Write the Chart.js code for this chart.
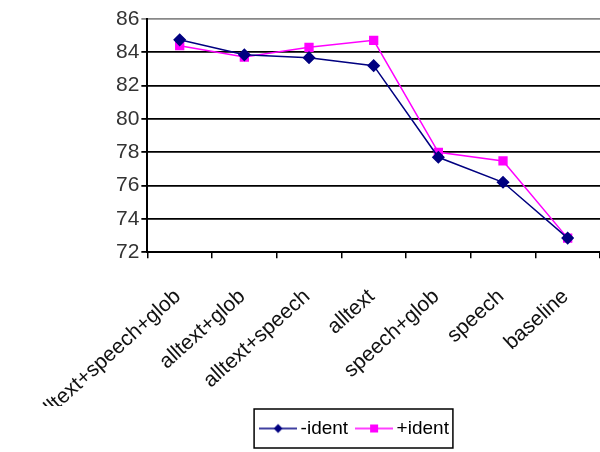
<!DOCTYPE html>
<html>
<head>
<meta charset="utf-8">
<script src="https://cdn.jsdelivr.net/npm/chart.js@4/dist/chart.umd.min.js"></script>
<style>
  html, body { margin: 0; padding: 0; background: #fff; }
  #wrap { width: 600px; height: 452px; }
</style>
</head>
<body>
<div id="wrap"><canvas id="chart"></canvas></div>
<script>
// datos del grafico
const categories = ["alltext+speech+glob", "alltext+glob", "alltext+speech", "alltext", "speech+glob", "speech", "baseline"];
const minusIdent = [84.75, 83.85, 83.68, 83.2, 77.7, 76.2, 72.85];
const plusIdent = [84.4, 83.72, 84.3, 84.72, 78.0, 77.48, 72.85];
const yTicks = [72, 74, 76, 78, 80, 82, 84, 86];

const NAVY = "#000080";
const MAGENTA = "#ff00ff";
const FONT = "'Liberation Sans', Arial, sans-serif";

// icono de leyenda: linea con marcador en medio
function legendIcon(color, shape) {
    const c = document.createElement("canvas");
    c.width = 38;
    c.height = 12;
    const g = c.getContext("2d");
    g.strokeStyle = color;
    g.lineWidth = 1.5;
    g.beginPath();
    g.moveTo(0, 6);
    g.lineTo(38, 6);
    g.stroke();
    g.fillStyle = color;
    if (shape === "diamond") {
        g.beginPath();
        g.moveTo(19, 1.5);
        g.lineTo(23.5, 6);
        g.lineTo(19, 10.5);
        g.lineTo(14.5, 6);
        g.closePath();
        g.fill();
    } else {
        g.fillRect(15, 2, 8, 8);
    }
    return c;
}
const icons = [legendIcon(NAVY, "diamond"), legendIcon(MAGENTA, "square")];

// marco alrededor de la leyenda
const legendBorder = {
    id: "legendBorder",
    afterDraw(chart) {
        const boxes = chart.legend && chart.legend.legendHitBoxes;
        if (!boxes || !boxes.length) return;
        const left = Math.min(...boxes.map(b => b.left)) - 11;
        const right = Math.max(...boxes.map(b => b.left + b.width)) + 4;
        const top = Math.min(...boxes.map(b => b.top)) - 10;
        const bottom = Math.max(...boxes.map(b => b.top + b.height)) + 10;
        const ctx = chart.ctx;
        ctx.save();
        ctx.strokeStyle = "#000";
        ctx.lineWidth = 1.5;
        ctx.strokeRect(left, top, right - left, bottom - top);
        ctx.restore();
    }
};

const ctx = document.getElementById("chart").getContext("2d");
const chart = new Chart(ctx, {
    type: "line",
    data: {
        labels: categories,
        datasets: [{
            label: "-ident",
            data: minusIdent,
            borderColor: NAVY,
            backgroundColor: NAVY,
            borderWidth: 1.5,
            pointStyle: "rectRot",
            pointRadius: 5.5,
            pointHoverRadius: 5.5,
            tension: 0
        }, {
            label: "+ident",
            data: plusIdent,
            borderColor: MAGENTA,
            backgroundColor: MAGENTA,
            borderWidth: 1.5,
            pointStyle: "rect",
            pointRadius: 5.5,
            pointHoverRadius: 5.5,
            tension: 0
        }]
    },
    options: {
        responsive: true,
        maintainAspectRatio: false,
        animation: false,
        layout: { autoPadding: false, padding: { left: 114, right: 0, top: 19, bottom: 4 } },
        plugins: {
            legend: {
                position: "bottom",
                labels: {
                    usePointStyle: true,
                    pointStyleWidth: 26,
                    padding: 13,
                    color: "#000",
                    font: { family: FONT, size: 19 },
                    generateLabels(chart) {
                        const items = Chart.defaults.plugins.legend.labels.generateLabels(chart);
                        items.forEach((it, i) => { it.pointStyle = icons[i]; });
                        return items;
                    }
                }
            },
            tooltip: { enabled: false }
        },
        scales: {
            x: {
                offset: true,
                grid: {
                    offset: true,
                    drawOnChartArea: false,
                    drawTicks: true,
                    tickLength: 6,
                    color: "#000",
                    lineWidth: 1.5
                },
                border: { color: "#000", width: 2 },
                ticks: {
                    minRotation: 42,
                    maxRotation: 42,
                    autoSkip: false,
                    padding: 26,
                    labelOffset: -2,
                    color: "#111",
                    font: { family: FONT, size: 21 }
                },
                afterFit(scale) {
                    // dejar que las etiquetas bajen junto a la leyenda
                    scale.height -= 48;
                    scale.paddingRight = 0;
                    scale.paddingLeft = 0;
                }
            },
            y: {
                min: 72,
                max: 86,
                afterBuildTicks(scale) {
                    scale.ticks = yTicks.map(v => ({ value: v }));
                },
                grid: {
                    color: c => (c.tick && c.tick.value === 86 ? "#888" : "#000"),
                    lineWidth: 1.8,
                    tickLength: 6
                },
                border: { color: "#000", width: 2 },
                ticks: {
                    padding: 2,
                    color: "#333",
                    font: { family: FONT, size: 21 }
                }
            }
        }
    },
    plugins: [legendBorder]
});
</script>
</body>
</html>
